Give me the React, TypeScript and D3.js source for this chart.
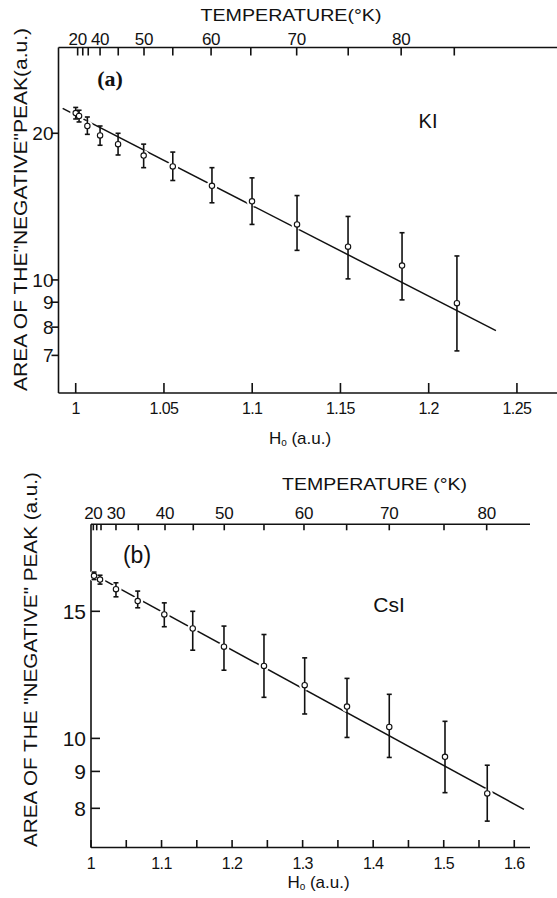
import React from 'react';
import * as d3 from 'd3';

// ---------- Panel (a) KI ----------
const hA = [1.0, 1.0019, 1.0066, 1.0138, 1.024, 1.0385, 1.055, 1.0772, 1.0999, 1.1254, 1.1543, 1.1849, 1.216];
const vA = [22.0, 21.7, 20.7, 19.8, 19.0, 18.0, 17.1, 15.6, 14.5, 13.0, 11.7, 10.7, 8.96];
const loA = [21.4, 21.1, 19.9, 18.9, 18.05, 17.0, 16.0, 14.4, 13.0, 11.5, 10.05, 9.1, 7.15];
const hiA = [22.6, 22.3, 21.6, 20.7, 20.0, 19.0, 18.3, 17.0, 16.2, 14.9, 13.5, 12.5, 11.2];
const fitAx = [0.9926, 1.2381];
const fitAy = [22.5, 7.87];
const xTicksA = [1, 1.05, 1.1, 1.15, 1.2, 1.25];
const xLabelsA = ['1', '1.05', '1.1', '1.15', '1.2', '1.25'];
const yTicksA = [20, 10, 9, 8, 7];
const tempTicksA = [1.0011, 1.004, 1.0071, 1.0138, 1.0241, 1.0387, 1.055, 1.0767, 1.0992, 1.1252, 1.1544, 1.1844, 1.2145];
const tempLabelsA = ['20', '', '', '40', '', '50', '', '60', '', '70', '', '80', ''];

// ---------- Panel (b) CsI ----------
const hB = [1.0043, 1.0128, 1.0354, 1.0662, 1.1039, 1.1442, 1.1885, 1.2452, 1.3029, 1.3629, 1.4228, 1.5018, 1.5617];
const vB = [16.8, 16.6, 16.1, 15.5, 14.85, 14.2, 13.4, 12.6, 11.85, 11.07, 10.37, 9.43, 8.39];
const loB = [16.6, 16.36, 15.71, 15.17, 14.28, 13.25, 12.43, 11.4, 10.81, 10.03, 9.41, 8.41, 7.68];
const hiB = [17.0, 16.83, 16.43, 16.0, 15.41, 15.0, 14.31, 13.93, 12.93, 12.11, 11.51, 10.56, 9.18];
const fitBx = [1.001, 1.6137];
const fitBy = [16.93, 7.975];
const xTicksB = [1, 1.05, 1.1, 1.15, 1.2, 1.25, 1.3, 1.35, 1.4, 1.45, 1.5, 1.55, 1.6];
const xLabelsB = ['1', '', '1.1', '', '1.2', '', '1.3', '', '1.4', '', '1.5', '', '1.6'];
const yTicksB = [15, 10, 9, 8];
const tempTicksB = [1.0033, 1.0081, 1.0142, 1.0354, 1.067, 1.1049, 1.145, 1.1889, 1.2452, 1.3019, 1.3624, 1.4228, 1.5004, 1.5609];
const tempLabelsB = ['20', '', '', '30', '', '40', '', '50', '', '60', '', '70', '', '80'];

const SANS = '"Liberation Sans", Arial, Helvetica, sans-serif';
const SERIF = '"Liberation Serif", "Times New Roman", serif';

type Cfg = {
  h: number[]; v: number[]; lo: number[]; hi: number[];
  fitX: number[]; fitY: number[];
  xTicks: number[]; xLabels: string[];
  yTicks: number[];
  tTicks: number[]; tLabels: string[];
  xDomain: [number, number]; xRange: [number, number];
  yDomain: [number, number]; yRange: [number, number];
  leftTickOut: boolean; leftTickLen: number; topTickLen: number; botTickLen: number;
  yLabelSize: number; yLabelX: number;
  topLabelY: number; botLabelY: number;
  title: string; titleX: number; titleY: number; titleLen: number;
  hLabelX: number; hLabelY: number;
  yTitle: string; yTitleX: number; yTitleY: number; yTitleLen: number;
  tag: string; tagX: number; tagY: number; tagFont: string; tagWeight: string; tagSize: number;
  name: string; nameX: number; nameY: number; nameSize: number;
};

function Panel({ c }: { c: Cfg }) {
  const x = d3.scaleLinear().domain(c.xDomain).range(c.xRange);
  const y = d3.scaleLog().domain(c.yDomain).range(c.yRange);
  const [x0, x1] = c.xRange;
  const [yb, yt] = c.yRange;
  const fit = d3.line<number>().x((d, i) => x(c.fitX[i])).y((d, i) => y(c.fitY[i]))(c.fitX);
  const sw = 1.6;
  return (
    <g>
      {/* axes */}
      <line x1={x0} y1={yt} x2={x0} y2={yb} stroke="#111" strokeWidth={sw} />
      <line x1={x0} y1={yt} x2={x1} y2={yt} stroke="#111" strokeWidth={sw} />
      <line x1={x0} y1={yb} x2={x1} y2={yb} stroke="#111" strokeWidth={sw} />
      {/* bottom ticks */}
      {c.xTicks.map((t, i) => (
        <g key={'xb' + i}>
          <line x1={x(t)} x2={x(t)} y1={yb} y2={yb - c.botTickLen} stroke="#111" strokeWidth={sw} />
          {c.xLabels[i] && (
            <text x={x(t)} y={c.botLabelY} textAnchor="middle" fontFamily={SANS} fontSize={16} letterSpacing={-0.6} fill="#111">{c.xLabels[i]}</text>
          )}
        </g>
      ))}
      {/* top temperature ticks */}
      {c.tTicks.map((t, i) => (
        <g key={'xt' + i}>
          <line x1={x(t)} x2={x(t)} y1={yt} y2={yt + c.topTickLen} stroke="#111" strokeWidth={sw} />
          {c.tLabels[i] && (
            <text x={x(t)} y={c.topLabelY} textAnchor="middle" fontFamily={SANS} fontSize={17} letterSpacing={-0.3} fill="#111">{c.tLabels[i]}</text>
          )}
        </g>
      ))}
      {/* left ticks */}
      {c.yTicks.map((t, i) => (
        <g key={'y' + i}>
          <line x1={c.leftTickOut ? x0 - c.leftTickLen : x0} x2={c.leftTickOut ? x0 : x0 + c.leftTickLen} y1={y(t)} y2={y(t)} stroke="#111" strokeWidth={sw} />
          <text x={c.yLabelX} y={y(t)} dy="0.36em" textAnchor="end" fontFamily={SANS} fontSize={c.yLabelSize} fill="#111">{String(t)}</text>
        </g>
      ))}
      {/* fit line */}
      <path d={fit || ''} fill="none" stroke="#111" strokeWidth={1.5} />
      {/* gaps in the line around points */}
      {c.h.map((h, i) => (
        <circle key={'halo' + i} cx={x(h)} cy={y(c.v[i])} r={5.5} fill="#fff" />
      ))}
      {/* error bars */}
      {c.h.map((h, i) => {
        const px = x(h);
        const ylo = y(c.lo[i]);
        const yhi = y(c.hi[i]);
        return (
          <g key={'eb' + i} stroke="#111" strokeWidth={1.6}>
            <line x1={px} x2={px} y1={ylo} y2={yhi} />
            <line x1={px - 2.5} x2={px + 2.5} y1={ylo} y2={ylo} />
            <line x1={px - 2.5} x2={px + 2.5} y1={yhi} y2={yhi} />
          </g>
        );
      })}
      {c.h.map((h, i) => (
        <circle key={'m' + i} cx={x(h)} cy={y(c.v[i])} r={2.7} fill="#fff" stroke="#111" strokeWidth={1.1} />
      ))}
      {/* texts */}
      <text x={c.titleX} y={c.titleY} textAnchor="middle" fontFamily={SANS} fontSize={17} textLength={c.titleLen} lengthAdjust="spacingAndGlyphs" fill="#111">{c.title}</text>
      <text x={c.hLabelX} y={c.hLabelY} textAnchor="middle" fontFamily={SANS} fontSize={17} fill="#111">
        <tspan>H</tspan><tspan fontSize={10} dy={2}>o</tspan><tspan dy={-2}> (a.u.)</tspan>
      </text>
      <text transform={`translate(${c.yTitleX},${c.yTitleY}) rotate(-90)`} textAnchor="middle" fontFamily={SANS} fontSize={19} textLength={c.yTitleLen} lengthAdjust="spacingAndGlyphs" fill="#111">{c.yTitle}</text>
      <text x={c.tagX} y={c.tagY} textAnchor="middle" fontFamily={c.tagFont} fontWeight={c.tagWeight} fontSize={c.tagSize} fill="#111">{c.tag}</text>
      <text x={c.nameX} y={c.nameY} textAnchor="middle" fontFamily={SANS} fontSize={c.nameSize} fill="#111">{c.name}</text>
    </g>
  );
}

const cfgA: Cfg = {
  h: hA, v: vA, lo: loA, hi: hiA, fitX: fitAx, fitY: fitAy,
  xTicks: xTicksA, xLabels: xLabelsA, yTicks: yTicksA, tTicks: tempTicksA, tLabels: tempLabelsA,
  xDomain: [0.99025, 1.2727], xRange: [58.5, 557],
  yDomain: [5.86, 30], yRange: [393, 47.5],
  leftTickOut: true, leftTickLen: 7, topTickLen: 8, botTickLen: 10,
  yLabelSize: 19, yLabelX: 53.5,
  topLabelY: 44.5, botLabelY: 414,
  title: 'TEMPERATURE(°K)', titleX: 291, titleY: 21, titleLen: 181,
  hLabelX: 300, hLabelY: 444,
  yTitle: 'AREA OF THE"NEGATIVE"PEAK(a.u.)', yTitleX: 27, yTitleY: 209.5, yTitleLen: 363,
  tag: '(a)', tagX: 110, tagY: 86, tagFont: SERIF, tagWeight: 'bold', tagSize: 22,
  name: 'KI', nameX: 428, nameY: 128, nameSize: 20,
};

const cfgB: Cfg = {
  h: hB, v: vB, lo: loB, hi: hiB, fitX: fitBx, fitY: fitBy,
  xTicks: xTicksB, xLabels: xLabelsB, yTicks: yTicksB, tTicks: tempTicksB, tLabels: tempLabelsB,
  xDomain: [1.0, 1.6223], xRange: [91, 530],
  yDomain: [7.06, 19.8], yRange: [847.5, 524.3],
  leftTickOut: false, leftTickLen: 9, topTickLen: 6, botTickLen: 7.5,
  yLabelSize: 21, yLabelX: 86,
  topLabelY: 518.5, botLabelY: 868.5,
  title: 'TEMPERATURE (°K)', titleX: 374.5, titleY: 490, titleLen: 185,
  hLabelX: 318.5, hLabelY: 888,
  yTitle: 'AREA OF THE "NEGATIVE" PEAK (a.u.)', yTitleX: 37, yTitleY: 659.5, yTitleLen: 375,
  tag: '(b)', tagX: 137, tagY: 563, tagFont: SANS, tagWeight: 'normal', tagSize: 23,
  name: 'CsI', nameX: 389, nameY: 612, nameSize: 21,
};

export default function App() {
  return (
    <svg width={557} height={898} viewBox="0 0 557 898" style={{ position: 'absolute', left: 0, top: 0, background: '#fff' }}>
      <rect x={0} y={0} width={557} height={898} fill="#fff" />
      <Panel c={cfgA} />
      <Panel c={cfgB} />
    </svg>
  );
}
